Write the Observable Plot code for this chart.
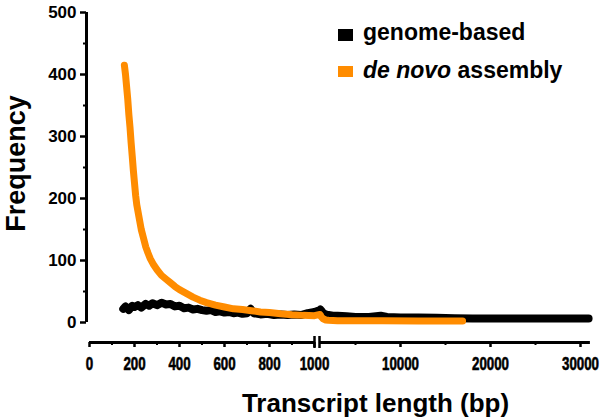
<!DOCTYPE html>
<html><head><meta charset="utf-8">
<script src="https://cdn.jsdelivr.net/npm/d3@7"></script>
<script src="https://cdn.jsdelivr.net/npm/@observablehq/plot@0.6"></script>
<style>
body{margin:0;background:#fff;}
#wrap{position:relative;width:600px;height:420px;}
.lg{position:absolute;font-family:"Liberation Sans",Arial,sans-serif;font-weight:bold;font-size:23px;line-height:23px;color:#000;white-space:nowrap;}
.sw{position:absolute;width:15px;}
</style></head><body><div id="wrap"></div>
<script>
// genome-based series: transcript length (bp) and frequency
const genomeLen = [150,160,175,190,200,215,230,250,265,280,300,320,340,360,380,400,420,440,460,480,500,520,540,560,580,600,620,640,660,680,700,716,730,760,790,820,850,880,910,940,970,1000,1050,1100,1200,1400,1700,2000,2500,3000,4000,5000,6500,7800,8500,10000,12000,14000,16000,18000,20000,25000,30900];
const genomeFreq = [22,26,20,27,25,28,24,30,27,31,28,32,29,30,26,27,23,24,21,22,20,19,20,17,18,16,17,15,16,14,15,22,15,13,14,12,13,12,13,12,15,17,20,21,19,15,13,12,11,11,10,9,9,11,9,8,8,7.5,7,6.5,6.5,6.5,6.5];
// de novo assembly series
const denovoLen = [155,160,165,170,175,180,185,190,195,200,205,210,220,230,240,250,260,270,285,300,320,340,360,380,400,430,460,490,520,560,600,640,680,720,760,800,850,900,950,1000,1050,1100,1200,1400,1700,2000,3000,5000,8000,12000,16900];
const denovoFreq = [415,400,380,360,335,315,290,268,245,225,205,190,170,150,136,122,112,103,93,85,76,70,64,58,53,47,41,36,32,28,25,22,21,19,17,16,14,12.5,11.5,11,13,12,9,6,4,3.5,3,3,3,2.5,2.5];

const xTicks = [0,200,400,600,800,1000,10000,20000,30000];
const xMinor = [100,300,500,700,900,5000,15000,25000];
const yTicks = [0,100,200,300,400,500];
const yMinor = [50,150,250,350,450];
const xBreak = [1000, 1000.001];
const xSegments = [{a: 0, b: 1000}, {a: 1000.001, b: 31100}];

const seriesNames = ["genome-based", "de novo assembly"];
const seriesColors = ["#000000", "#ff8c00"];

const genome = genomeLen.map((x, i) => ({x, y: genomeFreq[i]}));
const denovo = denovoLen.map((x, i) => ({x, y: denovoFreq[i]}));

const font = "Liberation Sans, Arial, sans-serif";

const chart = Plot.plot({
  width: 600, height: 420,
  marginLeft: 86, marginRight: 10, marginTop: 12, marginBottom: 78,
  style: {fontFamily: font, fontWeight: "bold", color: "#000", background: "#fff", overflow: "visible"},
  x: {type: "linear", domain: [0, 1000, 1000.001, 31000], range: [89, 314, 319, 589], label: null},
  y: {domain: [0, 500], range: [322, 12], label: null},
  marks: [
    Plot.lineY(genome, {x: "x", y: "y", stroke: seriesColors[0], strokeWidth: 8}),
    Plot.lineY(denovo, {x: "x", y: "y", stroke: seriesColors[1], strokeWidth: 7}),
    Plot.ruleX([0], {y1: 0, y2: 500, dx: -3, strokeWidth: 3}),
    Plot.axisY(yTicks, {anchor: "left", tickSize: 6, tickPadding: 4, fontSize: 17, strokeWidth: 2.5, tickFormat: "d", label: null}),
    Plot.axisY(yMinor, {anchor: "left", tickSize: 3, fill: "none", strokeWidth: 2, label: null}),
    Plot.ruleY(xSegments, {x1: "a", x2: "b", y: 0, dy: 20, strokeWidth: 3}),
    Plot.axisX(xTicks, {anchor: "bottom", tickSize: 5, tickPadding: 10, fontSize: 18, strokeWidth: 2.5, textStroke: "#000", textStrokeWidth: 0.6, tickFormat: "d", label: null}),
    Plot.axisX(xMinor, {anchor: "bottom", tickSize: 3, fill: "none", strokeWidth: 2, label: null}),
    Plot.ruleX(xBreak, {y1: 0, y2: 0, dy: 20, insetTop: -6, insetBottom: -6, strokeWidth: 2.5}),
    Plot.text(["Frequency"], {frameAnchor: "left", textAnchor: "middle", lineAnchor: "middle", rotate: -90, dx: -70, dy: -14, fontSize: 27}),
    Plot.text(["Transcript length (bp)"], {frameAnchor: "bottom", textAnchor: "middle", lineAnchor: "middle", dx: 37, dy: 61, fontSize: 26})
  ]
});

// condense the x tick labels horizontally (the reference uses a narrow face)
d3.select(chart).selectAll("g[aria-label='x-axis tick label'] text").each(function () {
  const t = this.getAttribute("transform") || "";
  this.setAttribute("transform", t + " scale(0.74,1)");
});

const wrap = document.getElementById("wrap");
wrap.appendChild(chart);

// legend
const legendRows = [
  {swTop: 29, swH: 12, textTop: 21, html: seriesNames[0]},
  {swTop: 66, swH: 11, textTop: 58.5, html: "<i>de novo</i> assembly"}
];
legendRows.forEach((r, i) => {
  const sw = document.createElement("div");
  sw.className = "sw";
  sw.style.left = "338px"; sw.style.top = r.swTop + "px"; sw.style.height = r.swH + "px";
  sw.style.background = seriesColors[i];
  wrap.appendChild(sw);
  const t = document.createElement("div");
  t.className = "lg";
  t.style.left = "363px"; t.style.top = r.textTop + "px";
  t.innerHTML = r.html;
  wrap.appendChild(t);
});
</script>
</body></html>
